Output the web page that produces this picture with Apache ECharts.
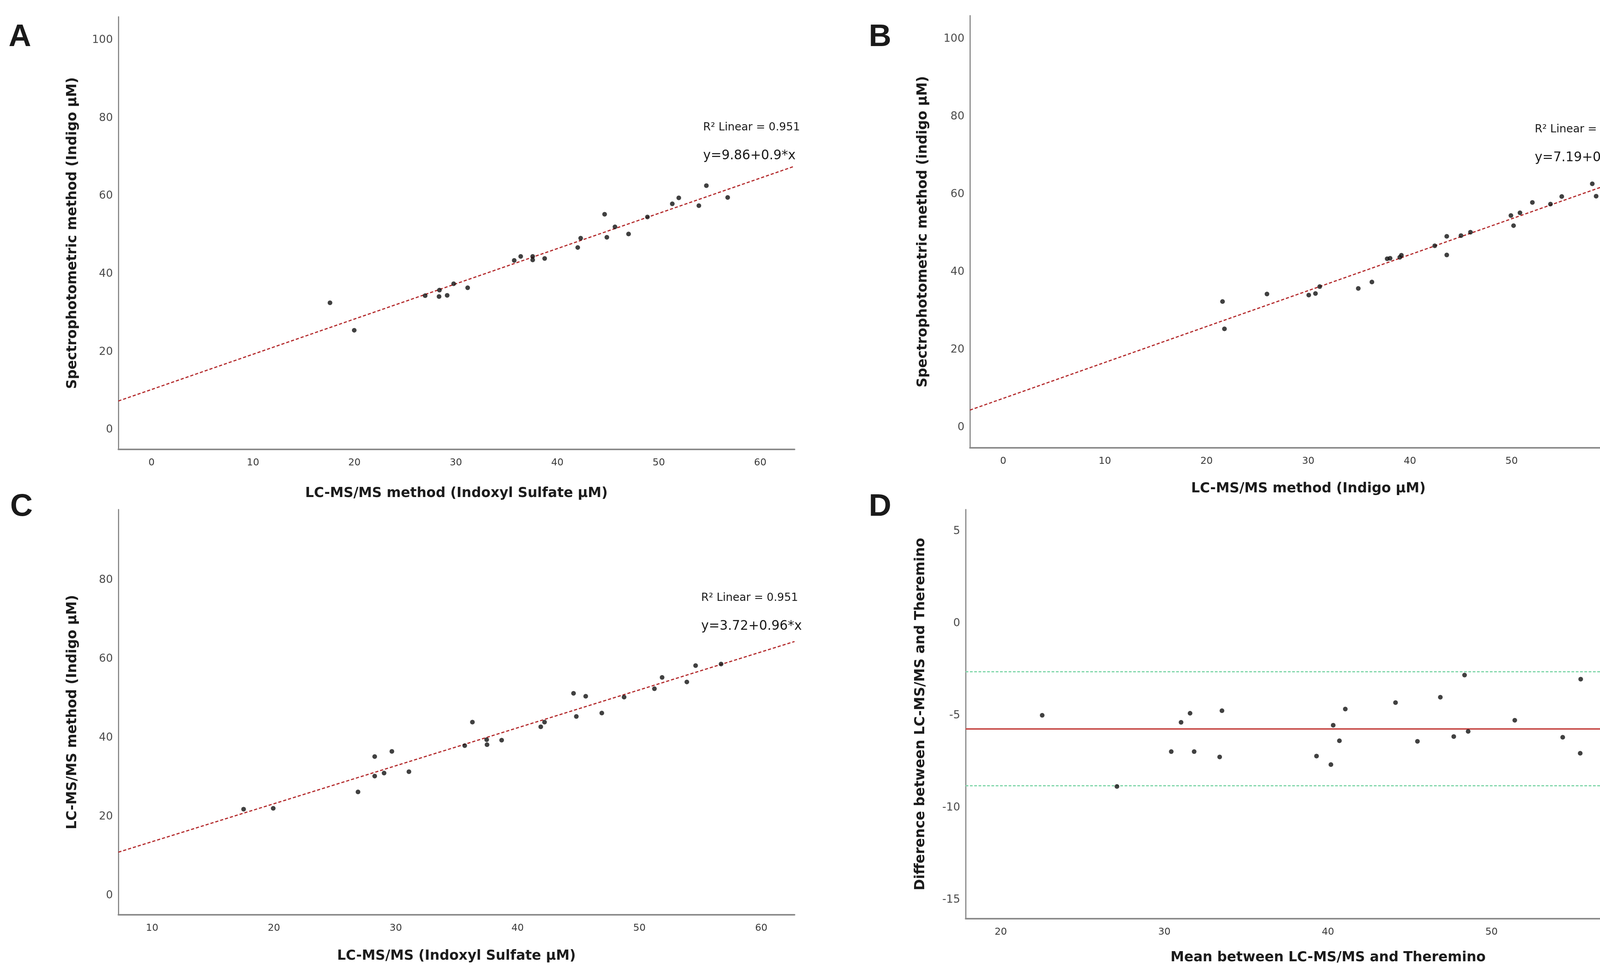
<!DOCTYPE html>
<html>
<head>
<meta charset="utf-8">
<script src="https://cdn.jsdelivr.net/npm/echarts@6/dist/echarts.min.js"></script>
<style>
  html, body { margin: 0; padding: 0; background: #ffffff; }
  #chart { width: 4401px; height: 2510px; }
</style>
</head>
<body>
<div id="chart"></div>
<script>
// ---------- Data ----------
// Panel A: LC-MS/MS Indoxyl Sulfate (x) vs Spectrophotometric Indigo (y)
const aX = [17.59, 19.98, 26.97, 28.38, 28.34, 29.14, 29.78, 31.16, 35.75, 36.39, 37.57, 37.57, 38.75,
            42.01, 42.30, 44.66, 44.88, 45.68, 47.02, 48.88, 51.33, 51.97, 53.95, 54.69, 56.79];
const aY = [32.60, 25.56, 34.43, 35.86, 34.21, 34.51, 37.50, 36.46, 43.47, 44.51, 44.51, 43.60, 43.99,
            46.80, 49.20, 55.32, 49.42, 52.10, 50.28, 54.63, 58.02, 59.54, 57.54, 62.67, 59.63];

// Panel B: LC-MS/MS Indigo (x) vs Spectrophotometric indigo (y)
const bX = [21.57, 21.76, 25.94, 30.05, 30.71, 31.13, 34.92, 36.26, 37.76, 38.05, 39.00, 39.16, 42.44,
            43.62, 43.62, 45.02, 45.95, 49.93, 50.19, 50.82, 52.04, 53.82, 54.93, 57.93, 58.31];
const bY = [32.39, 25.34, 34.31, 34.05, 34.44, 36.23, 35.75, 37.41, 43.38, 43.51, 43.77, 44.29, 46.73,
            49.18, 44.38, 49.35, 50.22, 54.53, 51.92, 55.23, 57.89, 57.46, 59.42, 62.68, 59.50];

// Panel C: LC-MS/MS Indoxyl Sulfate (x) vs LC-MS/MS Indigo (y)
const cX = [17.51, 19.94, 26.90, 28.27, 28.27, 29.04, 29.68, 31.08, 35.66, 36.29, 37.46, 37.49, 38.69,
            41.90, 42.21, 44.59, 44.82, 45.59, 46.91, 48.74, 51.23, 51.86, 53.89, 54.61, 56.70];
const cY = [21.86, 22.08, 26.24, 35.22, 30.26, 31.02, 36.54, 31.37, 38.00, 43.97, 39.50, 38.23, 39.38,
            42.78, 43.97, 51.27, 45.39, 50.52, 46.27, 50.29, 52.42, 55.30, 54.15, 58.30, 58.70];

// Panel D: Bland-Altman, mean (x) vs difference (y)
const dMean = [22.53, 27.10, 30.42, 31.02, 31.57, 31.82, 33.38, 33.52, 39.30, 40.18, 40.32, 40.70, 41.06,
               44.13, 45.47, 46.87, 47.69, 48.35, 48.57, 51.42, 54.35, 55.42, 55.45, 57.59, 58.38];
const dDiff = [-4.99, -8.85, -6.96, -5.37, -4.88, -6.96, -7.25, -4.74, -7.20, -7.66, -5.53, -6.37, -4.65,
               -4.30, -6.40, -4.01, -6.14, -2.81, -5.86, -5.26, -6.18, -7.05, -3.03, -2.91, -7.53];

// Tick labels
const ticksA_x = [0, 10, 20, 30, 40, 50, 60];
const ticksA_y = [0, 20, 40, 60, 80, 100];
const ticksB_x = [0, 10, 20, 30, 40, 50, 60];
const ticksB_y = [0, 20, 40, 60, 80, 100];
const ticksC_x = [10, 20, 30, 40, 50, 60];
const ticksC_y = [0, 20, 40, 60, 80];
const ticksD_x = [20, 30, 40, 50, 60];
const ticksD_y = [-15, -10, -5, 0, 5];

// Annotation texts
const annA = ['R\u00B2 Linear = 0.951', 'y=9.86+0.9*x'];
const annB = ['R\u00B2 Linear = 0.958', 'y=7.19+0.92*x'];
const annC = ['R\u00B2 Linear = 0.951', 'y=3.72+0.96*x'];

// ---------- Helpers ----------
function fit(xs, ys) {
  const n = xs.length;
  const mx = xs.reduce((s, v) => s + v, 0) / n;
  const my = ys.reduce((s, v) => s + v, 0) / n;
  let sxy = 0, sxx = 0;
  for (let i = 0; i < n; i++) { sxy += (xs[i] - mx) * (ys[i] - my); sxx += (xs[i] - mx) * (xs[i] - mx); }
  const b = sxy / sxx;
  return { a: my - b * mx, b: b };
}
function meanSd(v) {
  const n = v.length;
  const m = v.reduce((s, x) => s + x, 0) / n;
  const sd = Math.sqrt(v.reduce((s, x) => s + (x - m) * (x - m), 0) / (n - 1));
  return { m, sd };
}
const pairs = (xs, ys) => xs.map((x, i) => [x, ys[i]]);

const AXIS_COLOR = '#8a8a8a';
const TEXT_COLOR = '#1c1c1c';
const TITLE_FONT = 'DejaVu Sans';
const TITLE_SIZE = 35;

const panels = [
  { grid: { left: 303, top: 43, width: 1731, height: 1108 },
    xr: [-3.27, 63.38], yr: [-5.01, 106.0], xt: ticksA_x, yt: ticksA_y,
    xName: 'LC-MS/MS method (Indoxyl Sulfate \u00B5M)', xGap: 95,
    yName: 'Spectrophotometric method (Indigo \u00B5M)', yGap: 100 },
  { grid: { left: 2483, top: 40, width: 1733, height: 1107 },
    xr: [-3.27, 63.3], yr: [-5.28, 105.98], xt: ticksB_x, yt: ticksB_y,
    xName: 'LC-MS/MS method (Indigo \u00B5M)', xGap: 87,
    yName: 'Spectrophotometric method (indigo \u00B5M)', yGap: 103 },
  { grid: { left: 303, top: 1305, width: 1731, height: 1038 },
    xr: [7.23, 62.73], yr: [-4.93, 97.9], xt: ticksC_x, yt: ticksC_y,
    xName: 'LC-MS/MS (Indoxyl Sulfate \u00B5M)', xGap: 88,
    yName: 'LC-MS/MS method (Indigo \u00B5M)', yGap: 100 },
  { grid: { left: 2472, top: 1305, width: 1856, height: 1048 },
    xr: [17.85, 62.17], yr: [-16.02, 6.17], xt: ticksD_x, yt: ticksD_y,
    xName: 'Mean between LC-MS/MS and Theremino', xGap: 82,
    yName: 'Difference between LC-MS/MS and Theremino', yGap: 98 }
];

const grids = [], xAxes = [], yAxes = [];
panels.forEach((p, i) => {
  grids.push(Object.assign({ containLabel: false }, p.grid));
  xAxes.push({
    type: 'value', gridIndex: i, min: p.xr[0], max: p.xr[1],
    axisLine: { show: true, onZero: false, lineStyle: { color: AXIS_COLOR, width: 4 } },
    axisTick: { show: false }, splitLine: { show: false },
    axisLabel: { customValues: p.xt, margin: 22, color: '#3a3a3a', fontSize: 25, fontFamily: 'DejaVu Sans' },
    name: p.xName, nameLocation: 'middle', nameGap: p.xGap,
    nameTextStyle: { color: TEXT_COLOR, fontSize: TITLE_SIZE, fontWeight: 'bold', fontFamily: TITLE_FONT }
  });
  yAxes.push({
    type: 'value', gridIndex: i, min: p.yr[0], max: p.yr[1],
    axisLine: { show: true, onZero: false, lineStyle: { color: AXIS_COLOR, width: 3 } },
    axisTick: { show: false }, splitLine: { show: false },
    axisLabel: { customValues: p.yt, margin: 14, color: '#4a4a4a', fontSize: 28, fontFamily: 'DejaVu Sans' },
    name: p.yName, nameLocation: 'middle', nameGap: p.yGap,
    nameTextStyle: { color: TEXT_COLOR, fontSize: TITLE_SIZE, fontWeight: 'bold', fontFamily: TITLE_FONT }
  });
});

function scatter(i, xs, ys) {
  return {
    type: 'scatter', xAxisIndex: i, yAxisIndex: i, data: pairs(xs, ys),
    symbol: 'circle', symbolSize: 12, itemStyle: { color: '#111111' }, z: 5
  };
}
function regLine(i, xs, ys) {
  const f = fit(xs, ys);
  const r = panels[i].xr;
  return {
    type: 'line', xAxisIndex: i, yAxisIndex: i, showSymbol: false, silent: true,
    data: [[r[0], f.a + f.b * r[0]], [r[1], f.a + f.b * r[1]]],
    lineStyle: { color: '#b3292b', width: 3, type: [8, 5] }, z: 3
  };
}

const ms = meanSd(dDiff);
const seriesD = scatter(3, dMean, dDiff);
seriesD.markLine = {
  silent: true, symbol: 'none', label: { show: false },
  data: [
    { yAxis: ms.m, lineStyle: { color: '#c8504d', width: 4, type: 'solid' } },
    { yAxis: ms.m + 1.96 * ms.sd, lineStyle: { color: '#7fd6a9', width: 3, type: [7, 4] } },
    { yAxis: ms.m - 1.96 * ms.sd, lineStyle: { color: '#7fd6a9', width: 3, type: [7, 4] } }
  ]
};

function txtC(x, cy, text, size, weight, family) {
  return { type: 'text', x: x, y: cy, z: 10,
    style: { text: text, fill: '#1a1a1a', fontSize: size, fontWeight: weight || 'normal',
             fontFamily: family || 'DejaVu Sans', verticalAlign: 'middle', align: 'left' } };
}
const graphics = [
  txtC(22, 96, 'A', 80, 'bold', 'Liberation Sans'),
  txtC(2224, 96, 'B', 80, 'bold', 'Liberation Sans'),
  txtC(26, 1299, 'C', 80, 'bold', 'Liberation Sans'),
  txtC(2224, 1299, 'D', 80, 'bold', 'Liberation Sans'),
  txtC(1800, 327, annA[0], 28), txtC(1800, 399, annA[1], 33),
  txtC(3929, 332, annB[0], 28), txtC(3929, 404, annB[1], 33),
  txtC(1795, 1532, annC[0], 28), txtC(1795, 1604, annC[1], 33)
];

const chart = echarts.init(document.getElementById('chart'), null, { renderer: 'canvas' });
chart.setOption({
  animation: false,
  backgroundColor: '#ffffff',
  grid: grids, xAxis: xAxes, yAxis: yAxes,
  graphic: graphics,
  series: [
    regLine(0, aX, aY), scatter(0, aX, aY),
    regLine(1, bX, bY), scatter(1, bX, bY),
    regLine(2, cX, cY), scatter(2, cX, cY),
    seriesD
  ]
});
</script>
</body>
</html>
